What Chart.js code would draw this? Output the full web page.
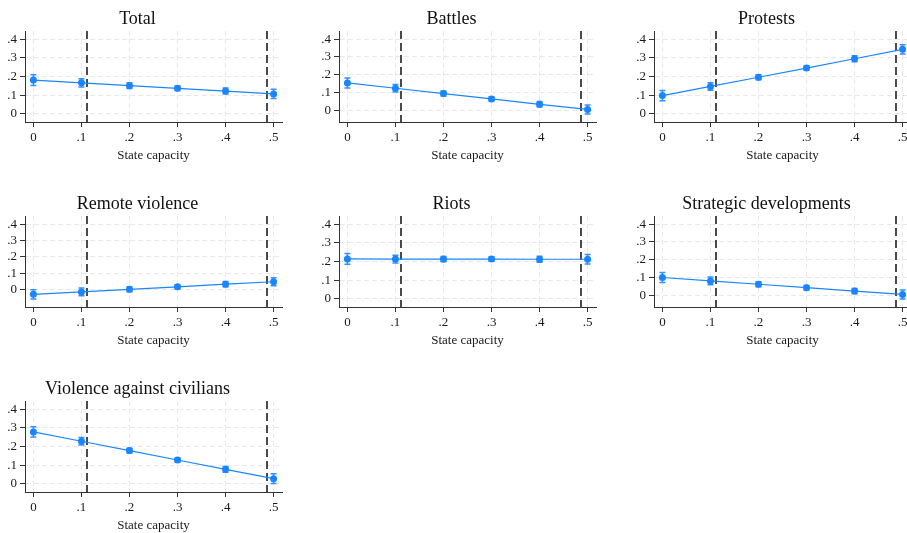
<!DOCTYPE html>
<html>
<head>
<meta charset="utf-8">
<script src="https://cdn.jsdelivr.net/npm/chart.js@4/dist/chart.umd.min.js"></script>
<style>
  html, body { margin: 0; padding: 0; background: #fff; }
  body { width: 907px; height: 533px; overflow: hidden; position: relative; }
  canvas.panel { position: absolute; }
</style>
</head>
<body>
<script>
// Predicted share by state capacity, with 95% confidence intervals
const capacity = [0, 0.1, 0.2, 0.3, 0.4, 0.5];
const xTicks = [0, 0.1, 0.2, 0.3, 0.4, 0.5];
const yTicks = [0, 0.1, 0.2, 0.3, 0.4];
const cutoffs = [0.111, 0.486];   // dashed reference lines on state capacity

const titles = ['Total', 'Battles', 'Protests', 'Remote violence', 'Riots',
                'Strategic developments', 'Violence against civilians'];

const totalEst     = [0.181, 0.166, 0.151, 0.137, 0.122, 0.107];
const totalCI      = [0.029, 0.022, 0.015, 0.012, 0.016, 0.025];
const battlesEst   = [0.154, 0.124, 0.094, 0.064, 0.034, 0.005];
const battlesCI    = [0.028, 0.021, 0.014, 0.012, 0.015, 0.025];
const protestsEst  = [0.098, 0.147, 0.196, 0.245, 0.295, 0.345];
const protestsCI   = [0.027, 0.020, 0.014, 0.012, 0.016, 0.025];
const remoteEst    = [-0.030, -0.015, 0.001, 0.016, 0.032, 0.047];
const remoteCI     = [0.028, 0.024, 0.015, 0.013, 0.016, 0.025];
const riotsEst     = [0.214, 0.213, 0.213, 0.213, 0.212, 0.212];
const riotsCI      = [0.029, 0.021, 0.014, 0.012, 0.016, 0.026];
const strategicEst = [0.101, 0.082, 0.063, 0.044, 0.025, 0.006];
const strategicCI  = [0.028, 0.022, 0.014, 0.012, 0.015, 0.025];
const civiliansEst = [0.278, 0.228, 0.178, 0.128, 0.078, 0.028];
const civiliansCI  = [0.027, 0.020, 0.013, 0.011, 0.015, 0.026];

const estimates = [totalEst, battlesEst, protestsEst, remoteEst, riotsEst, strategicEst, civiliansEst];
const intervals = [totalCI, battlesCI, protestsCI, remoteCI, riotsCI, strategicCI, civiliansCI];

const BLUE = '#1a85ff';
const SERIF = '"Liberation Serif", "Times New Roman", serif';
const INK = '#1a1a1a';

function fmt(v) {
  if (Math.abs(v) < 1e-9) return '0';
  const s = v.toFixed(1);
  return s.replace(/^(-?)0\./, '$1.');
}

// Dashed black reference lines at the cutoffs
const cutoffLines = {
  id: 'cutoffLines',
  beforeDatasetsDraw(chart) {
    const { ctx, chartArea: a, scales: { x } } = chart;
    ctx.save();
    ctx.strokeStyle = '#1e1e1e';
    ctx.lineWidth = 1.6;
    ctx.setLineDash([8, 4]);
    cutoffs.forEach(c => {
      const px = Math.round(x.getPixelForValue(c));
      ctx.beginPath();
      ctx.moveTo(px, a.top);
      ctx.lineTo(px, a.bottom);
      ctx.stroke();
    });
    ctx.restore();
  }
};

// Capped confidence-interval bars
const ciBars = {
  id: 'ciBars',
  beforeDatasetsDraw(chart) {
    const { ctx, scales: { x, y } } = chart;
    const est = chart.config.options.plugins.ciBars.est;
    const hw = chart.config.options.plugins.ciBars.hw;
    ctx.save();
    ctx.strokeStyle = '#3392ff';
    ctx.lineWidth = 1.5;
    capacity.forEach((c, i) => {
      const px = x.getPixelForValue(c);
      const lo = y.getPixelForValue(est[i] - hw[i]);
      const hi = y.getPixelForValue(est[i] + hw[i]);
      ctx.beginPath();
      ctx.moveTo(px, lo); ctx.lineTo(px, hi);
      ctx.moveTo(px - 3, lo); ctx.lineTo(px + 3, lo);
      ctx.moveTo(px - 3, hi); ctx.lineTo(px + 3, hi);
      ctx.stroke();
    });
    ctx.restore();
  }
};

// Panel heading
const panelTitle = {
  id: 'panelTitle',
  afterDraw(chart) {
    const { ctx, chartArea: a } = chart;
    ctx.save();
    ctx.font = '18px ' + SERIF;
    ctx.fillStyle = '#111';
    ctx.textAlign = 'center';
    ctx.textBaseline = 'alphabetic';
    ctx.fillText(chart.config.options.plugins.panelTitle.text, (a.left + a.right) / 2 - 16, 24);
    ctx.restore();
  }
};

const colLeft = [0, 314, 629];
const rowTop = [0, 185, 370];

titles.forEach((title, k) => {
  const est = estimates[k];
  const hw = intervals[k];
  const cv = document.createElement('canvas');
  cv.className = 'panel';
  cv.width = 290; cv.height = 163;
  cv.style.width = '290px'; cv.style.height = '163px';
  cv.style.left = colLeft[k % 3] + 'px';
  cv.style.top = rowTop[Math.floor(k / 3)] + 'px';
  document.body.appendChild(cv);

  // value range: labelled 0–.4 plus the intervals, with a margin around it
  const lo = Math.min(0, ...est.map((v, i) => v - hw[i]));
  const hi = Math.max(0.4, ...est.map((v, i) => v + hw[i]));
  const pad = (hi - lo) * 0.108;

  const tickFont = { family: SERIF, size: 13 };

  new Chart(cv, {
    type: 'line',
    data: {
      datasets: [{
        data: capacity.map((c, i) => ({ x: c, y: est[i] })),
        borderColor: BLUE,
        borderWidth: 1.2,
        backgroundColor: BLUE,
        pointRadius: 3.5,
        pointBorderWidth: 0,
        pointBackgroundColor: BLUE,
        tension: 0,
        fill: false
      }]
    },
    options: {
      responsive: false,
      animation: false,
      devicePixelRatio: 1,
      layout: { padding: { top: 31, left: 0, right: 8, bottom: 0 } },
      plugins: {
        legend: { display: false },
        tooltip: { enabled: false },
        ciBars: { est, hw },
        panelTitle: { text: title }
      },
      scales: {
        x: {
          type: 'linear',
          min: -0.0175,
          max: 0.5175,
          afterBuildTicks: s => { s.ticks = xTicks.map(v => ({ value: v })); },
          afterFit: s => { s.height = 41; },
          grid: { color: '#e8e8e8', lineWidth: 1, tickColor: '#333', tickLength: 5, tickWidth: 1 },
          border: { color: '#333', width: 1, dash: [5, 3] },
          ticks: { font: tickFont, color: INK, padding: 3, maxRotation: 0, autoSkip: false, callback: v => fmt(v) },
          title: { display: true, text: 'State capacity', font: { family: SERIF, size: 13 }, color: INK, padding: 0 }
        },
        y: {
          type: 'linear',
          min: lo - pad,
          max: hi + pad,
          afterBuildTicks: s => { s.ticks = yTicks.map(v => ({ value: v })); },
          afterFit: s => { s.width = 25; },
          grid: { color: '#e8e8e8', lineWidth: 1, tickColor: '#333', tickLength: 5, tickWidth: 1 },
          border: { color: '#333', width: 1, dash: [5, 3] },
          ticks: { font: tickFont, color: INK, padding: 3, autoSkip: false, callback: v => fmt(v) }
        }
      }
    },
    plugins: [cutoffLines, ciBars, panelTitle]
  });
});
</script>
</body>
</html>
